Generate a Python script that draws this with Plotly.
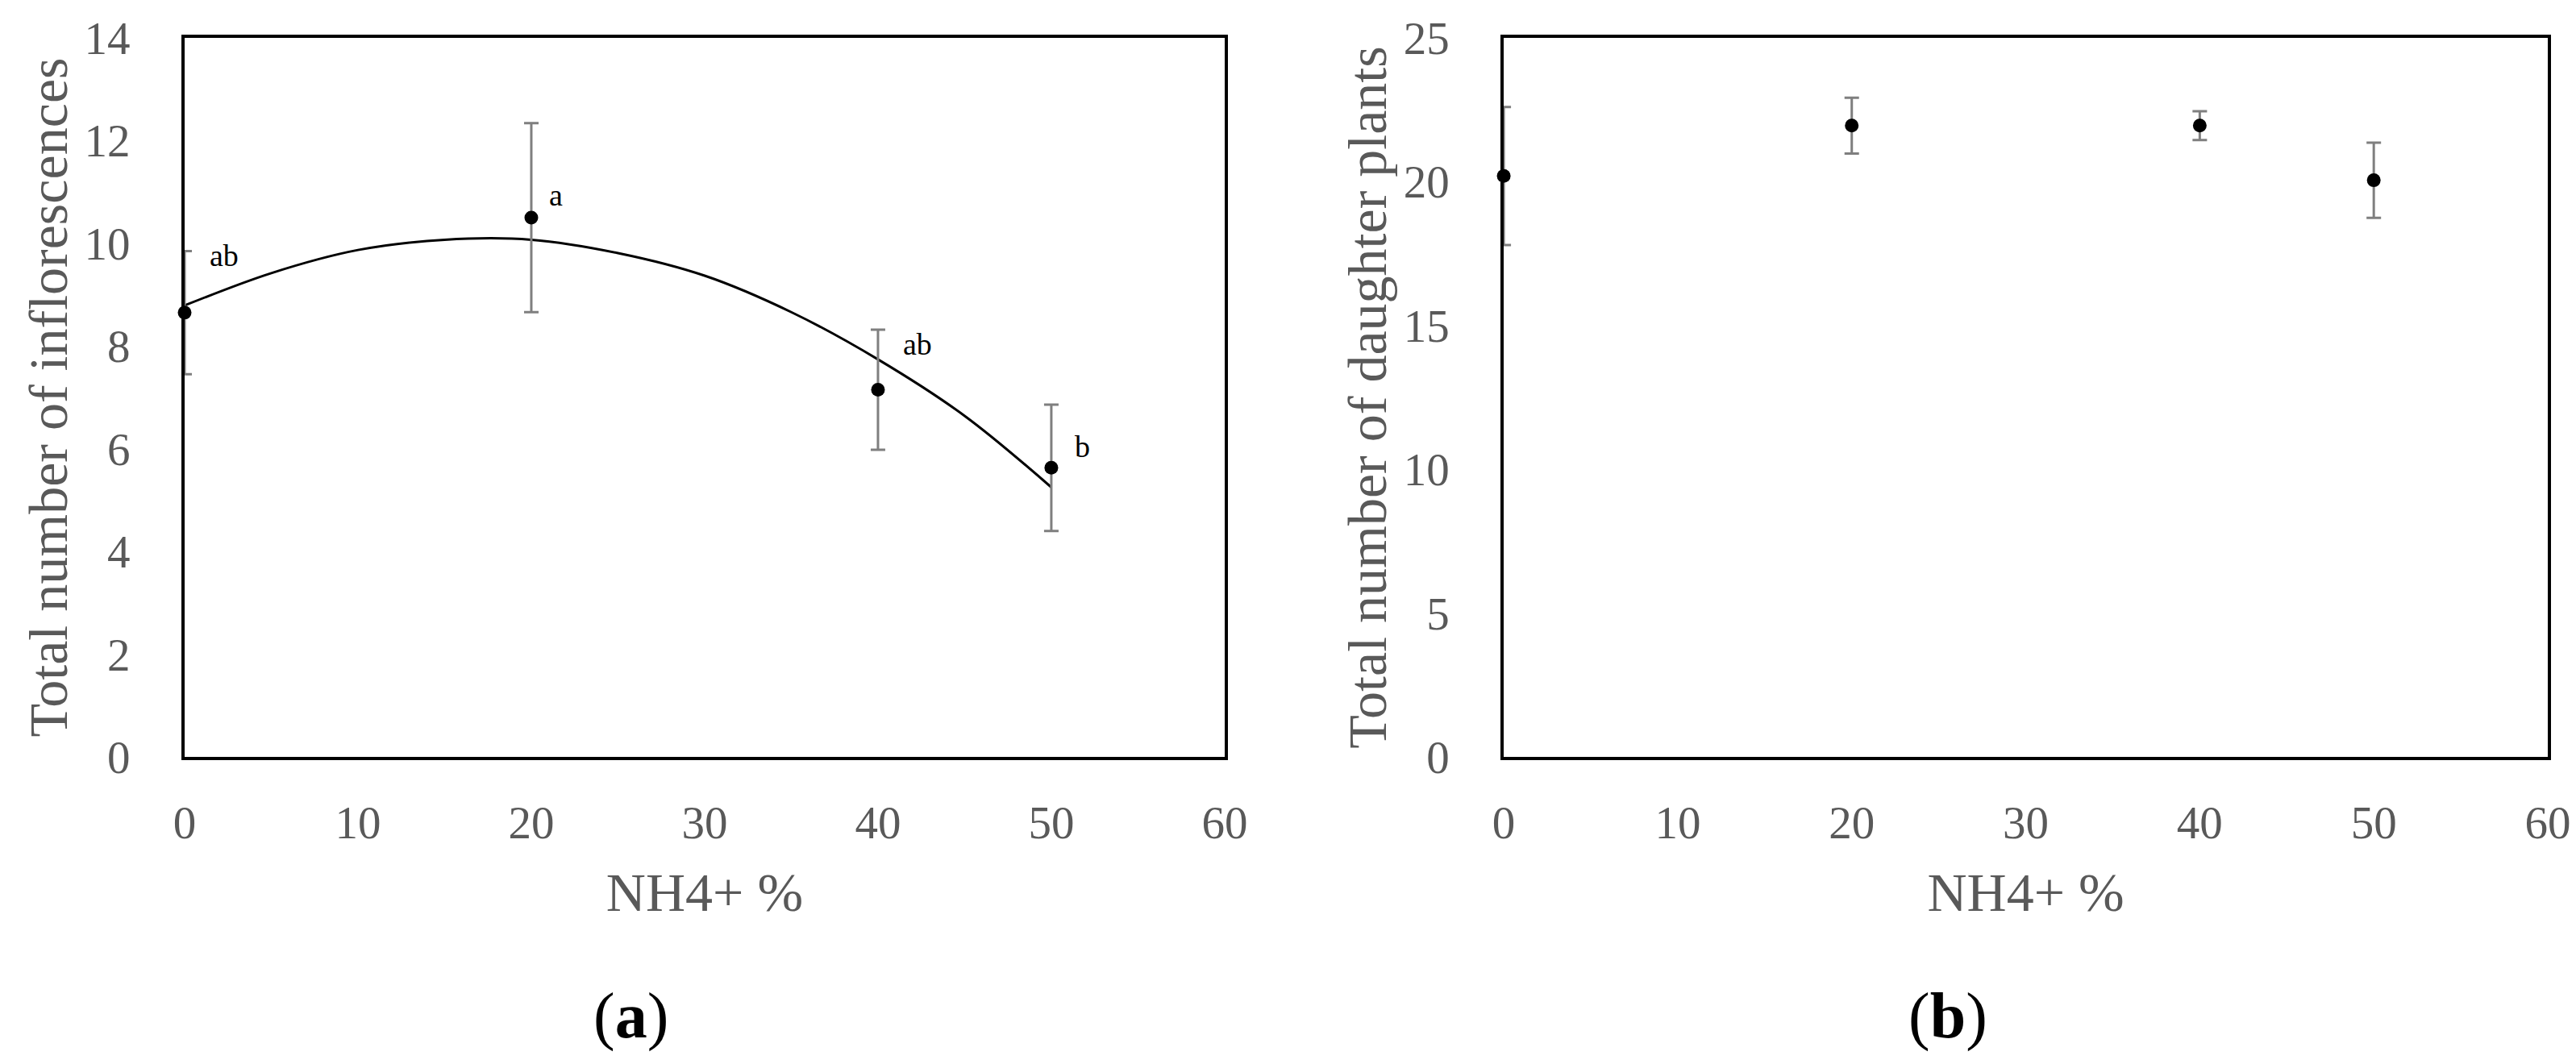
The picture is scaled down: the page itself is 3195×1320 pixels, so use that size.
import plotly.graph_objects as go
from plotly.subplots import make_subplots

# NH4+ share of the nitrogen supply (%)
nh4_pct = [0, 20, 40, 50]

# (a) total number of inflorescences, mean and error
infl_mean = [8.65, 10.5, 7.15, 5.63]
infl_err = [1.2, 1.84, 1.17, 1.23]

# polynomial trend line
trend_x = [0, 5, 10, 15, 20, 25, 30, 35, 40, 45, 50]
trend_y = [8.79, 9.42, 9.87, 10.07, 10.07, 9.81, 9.37, 8.66, 7.74, 6.64, 5.25]

# significance letters for (a)
infl_letters = ["ab", "a", "ab", "b"]
infl_letter_x = [2.3, 21.4, 42.3, 51.8]
infl_letter_y = [9.76, 10.94, 8.03, 6.05]

# (b) total number of daughter plants, mean and error
daughter_mean = [20.2, 21.95, 21.95, 20.05]
daughter_err = [2.4, 0.97, 0.5, 1.31]

x_ticks = [0, 10, 20, 30, 40, 50, 60]

FONT = "Liberation Serif"
GREY = "#595959"

fig = make_subplots(rows=1, cols=2)

fig.add_trace(go.Scatter(x=trend_x, y=trend_y, mode="lines", line_shape="spline",
                         line=dict(color="black", width=3), showlegend=False),
              row=1, col=1)

err_style = dict(type="data", visible=True, color="#7f7f7f", thickness=3, width=9)

fig.add_trace(go.Scatter(x=nh4_pct, y=infl_mean, mode="markers",
                         marker=dict(color="black", size=17),
                         error_y=dict(array=infl_err, **err_style),
                         cliponaxis=False, showlegend=False),
              row=1, col=1)

fig.add_trace(go.Scatter(x=nh4_pct, y=daughter_mean, mode="markers",
                         marker=dict(color="black", size=17),
                         error_y=dict(array=daughter_err, **err_style),
                         cliponaxis=False, showlegend=False),
              row=1, col=2)

for txt, lx, ly in zip(infl_letters, infl_letter_x, infl_letter_y):
    fig.add_annotation(x=lx, y=ly, xref="x", yref="y", text=txt, showarrow=False,
                       font=dict(family=FONT, size=38, color="black"))

axis_common = dict(showline=True, mirror=True, linecolor="black", linewidth=4,
                   ticks="", showgrid=False, zeroline=False, automargin=False,
                   tickfont=dict(family=FONT, size=57, color=GREY),
                   title_font=dict(family=FONT, size=68, color=GREY))

fig.update_xaxes(range=[0, 60], tickvals=x_ticks, ticklabelstandoff=29,
                 title_text="NH4+ %", title_standoff=32, **axis_common)
fig.update_yaxes(ticklabelstandoff=52, title_standoff=0, **axis_common)

# page body keeps an 8 px margin, so the figure starts 8 px in from the window edge
fig.update_layout(
    xaxis=dict(domain=[0, 0.4401]),
    xaxis2=dict(domain=[0.5582, 1]),
    yaxis=dict(range=[0, 14], dtick=2, title_text="Total number of inflorescences"),
    yaxis2=dict(range=[0, 25], dtick=5, title_text="Total number of daughter plants"),
    width=3187, height=1304,
    margin=dict(l=221, r=35, t=39, b=373),
    paper_bgcolor="white", plot_bgcolor="white",
)

# panel captions
for cx, letter in [(0.1887, "a"), (0.7462, "b")]:
    fig.add_annotation(x=cx, y=-0.36, xref="paper", yref="paper",
                       xanchor="center", yanchor="middle",
                       text="(<b>" + letter + "</b>)", showarrow=False,
                       font=dict(family=FONT, size=80, color="black"))

fig.write_html("out.html")
